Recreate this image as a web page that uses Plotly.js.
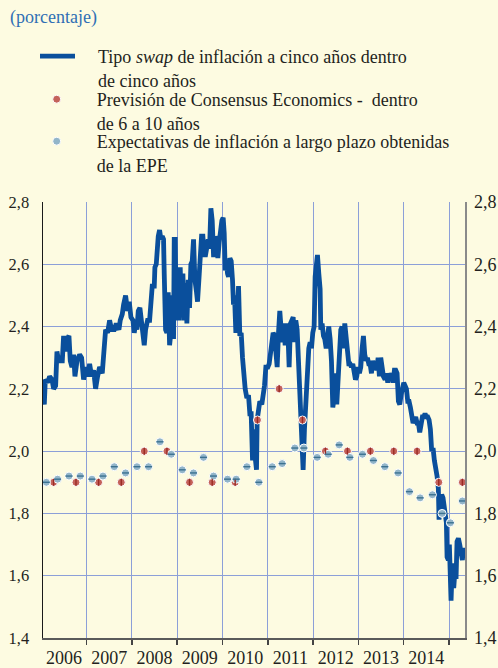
<!DOCTYPE html>
<html>
<head>
<meta charset="utf-8">
<script src="https://cdn.plot.ly/plotly-3.0.1.min.js"></script>
<style>html,body{margin:0;padding:0;background:#fdfbe1;}#chart{width:498px;height:668px;}</style>
</head>
<body>
<div id="chart"></div>
<script>
// Tipo swap de inflación a cinco años dentro de cinco años (fecha en años decimales)
var swapFecha = [
2006.037,2006.067,2006.089,2006.14,2006.184,2006.236,2006.273,2006.317,2006.346,2006.383,2006.42,2006.464,2006.493,2006.53,2006.567,2006.611,2006.64,2006.677,2006.714,2006.743,2006.788,2006.846,2006.89,2006.934,2006.979,
2007.023,2007.067,2007.111,2007.155,2007.199,2007.243,2007.287,2007.346,2007.39,2007.42,2007.464,2007.508,2007.552,2007.611,2007.655,2007.714,2007.743,2007.788,2007.817,2007.861,2007.905,
2007.942,2007.979,2008.023,2008.052,2008.082,2008.111,2008.141,2008.177,2008.214,2008.244,2008.273,2008.302,2008.346,2008.391,2008.42,2008.449,2008.494,2008.508,2008.538,2008.552,2008.582,2008.611,2008.641,2008.67,2008.699,2008.714,2008.744,2008.773,2008.802,2008.832,2008.854,2008.891,2008.92,2008.935,2008.957,2008.979,
2009.001,2009.023,2009.045,2009.067,2009.096,2009.126,2009.155,2009.185,2009.214,2009.244,2009.273,2009.302,2009.332,2009.361,2009.391,2009.427,2009.449,2009.479,2009.508,2009.538,2009.567,2009.596,2009.626,2009.655,2009.685,2009.714,2009.744,2009.773,2009.802,2009.832,
2009.839,2009.868,2009.898,2009.927,2009.957,2009.986,2010.015,2010.038,2010.06,2010.089,2010.111,2010.133,2010.163,2010.192,2010.221,2010.243,2010.265,2010.295,2010.324,2010.354,2010.383,2010.413,2010.442,2010.471,2010.501,2010.538,2010.574,2010.604,2010.633,2010.663,2010.692,2010.721,2010.751,2010.765,2010.795,2010.824,2010.868,2010.898,2010.927,2010.957,
2011.001,2011.03,2011.06,2011.089,2011.118,2011.148,2011.177,2011.207,2011.236,2011.265,2011.295,2011.324,2011.354,2011.383,2011.413,2011.442,2011.471,2011.501,2011.53,2011.56,2011.589,2011.618,2011.648,2011.677,2011.707,2011.736,2011.765,2011.78,2011.809,
2011.846,2011.876,2011.905,2011.935,2011.964,2011.993,2012.023,2012.045,2012.067,2012.096,2012.126,2012.155,2012.17,2012.199,2012.229,2012.258,2012.288,2012.317,2012.346,2012.376,2012.405,2012.435,2012.464,2012.493,2012.523,2012.552,2012.582,2012.611,2012.64,2012.67,2012.699,2012.729,2012.758,2012.788,2012.817,2012.846,2012.876,2012.905,2012.935,2012.964,2012.993,
2013.023,2013.052,2013.082,2013.111,2013.14,2013.17,2013.199,2013.229,2013.258,2013.288,2013.317,2013.346,2013.376,2013.405,2013.435,2013.464,2013.493,2013.523,2013.552,
2013.589,2013.618,2013.648,2013.677,2013.707,2013.736,2013.765,2013.795,2013.824,2013.854,2013.883,2013.913,2013.942,2013.971,2014.001,2014.03,2014.06,2014.089,2014.118,2014.148,2014.177,2014.207,2014.236,2014.265,2014.295,2014.324,2014.354,2014.383,2014.413,2014.442,2014.471,2014.501,2014.53,2014.56,2014.589,2014.618,2014.648,2014.677,2014.707,2014.736,2014.765,2014.78,2014.81,2014.839,2014.868,2014.898,2014.913,2014.942,2014.957,2014.986,
2015.008,2015.03,2015.045,2015.074,2015.104,2015.133,2015.155,2015.177,2015.207,2015.236,2015.265,2015.295,2015.317
];
var swapValor = [
2.18,2.15,2.23,2.22,2.24,2.23,2.20,2.21,2.32,2.29,2.29,2.29,2.37,2.32,2.36,2.37,2.29,2.27,2.31,2.24,2.29,2.31,2.30,2.23,2.27,
2.24,2.28,2.24,2.26,2.20,2.24,2.27,2.25,2.35,2.39,2.38,2.42,2.39,2.39,2.41,2.39,2.42,2.44,2.47,2.50,2.45,
2.48,2.43,2.42,2.38,2.41,2.39,2.45,2.46,2.40,2.35,2.34,2.39,2.42,2.42,2.52,2.53,2.53,2.59,2.60,2.67,2.69,2.71,2.68,2.69,2.68,2.57,2.39,2.38,2.51,2.34,2.37,2.50,2.36,2.68,2.68,2.42,
2.58,2.48,2.42,2.59,2.43,2.57,2.42,2.54,2.41,2.55,2.46,2.60,2.61,2.68,2.55,2.51,2.48,2.55,2.65,2.69,2.69,2.63,2.63,2.65,2.68,2.65,2.78,2.74,2.63,2.63,
2.69,2.67,2.62,2.67,2.72,2.74,2.75,2.70,2.58,2.61,2.57,2.56,2.62,2.61,2.55,2.47,2.50,2.38,2.42,2.53,2.37,2.38,2.30,2.22,2.20,2.17,2.18,2.12,2.12,1.97,2.07,1.98,1.94,2.10,2.14,2.16,2.15,2.18,2.21,2.27,
2.27,2.28,2.31,2.36,2.38,2.37,2.33,2.27,2.38,2.45,2.39,2.35,2.41,2.34,2.41,2.39,2.27,2.41,2.42,2.43,2.35,2.42,2.39,2.29,2.10,2.01,1.96,1.94,2.07,
2.20,2.23,2.33,2.35,2.33,2.38,2.40,2.56,2.59,2.63,2.57,2.52,2.39,2.41,2.37,2.36,2.33,2.37,2.40,2.36,2.29,2.14,2.17,2.25,2.15,2.23,2.32,2.39,2.40,2.33,2.41,2.37,2.32,2.28,2.28,2.27,2.28,2.25,2.23,2.24,2.27,
2.25,2.27,2.33,2.37,2.31,2.29,2.30,2.28,2.28,2.25,2.29,2.27,2.28,2.26,2.30,2.24,2.30,2.25,2.24,
2.23,2.25,2.22,2.25,2.23,2.25,2.22,2.26,2.26,2.25,2.16,2.15,2.18,2.21,2.22,2.21,2.20,2.16,2.16,2.14,2.11,2.09,2.10,2.11,2.09,2.09,2.06,2.08,2.11,2.11,2.12,2.11,2.11,2.10,2.07,2.00,2.01,1.97,1.95,1.92,1.88,1.78,1.84,1.86,1.85,1.81,1.79,1.77,1.66,1.65,
1.70,1.59,1.52,1.64,1.56,1.62,1.59,1.71,1.72,1.70,1.66,1.65,1.69
];

// Previsión de Consensus Economics - dentro de 6 a 10 años
var consensusFecha = [2006.272,2006.766,2007.265,2007.766,2008.273,2008.774,2009.272,2009.773,2010.28,2010.772,2011.251,2011.765,2012.272,2012.758,2013.265,2013.781,2014.295,2014.774,2015.295];
var consensusValor = [1.90,1.90,1.90,1.90,2.00,2.00,1.90,1.90,1.90,2.10,2.20,2.10,2.00,2.00,2.00,2.00,2.00,1.90,1.90];

// Expectativas de inflación a largo plazo obtenidas de la EPE
var epeFecha = [2006.111,2006.36,2006.612,2006.861,2007.119,2007.362,2007.611,2007.86,2008.112,2008.368,2008.619,2008.869,2009.111,2009.36,2009.581,2009.802,2010.111,2010.302,2010.538,2010.803,2011.097,2011.317,2011.597,2011.796,2012.089,2012.332,2012.575,2012.811,2013.089,2013.331,2013.583,2013.876,2014.126,2014.362,2014.633,2014.847,2015.03,2015.295];
var epeValor = [1.90,1.91,1.92,1.92,1.91,1.92,1.95,1.93,1.95,1.95,2.03,1.99,1.94,1.93,1.98,1.92,1.91,1.91,1.95,1.90,1.95,1.96,2.01,2.01,1.98,1.99,2.02,1.98,1.99,1.97,1.95,1.93,1.87,1.85,1.86,1.80,1.77,1.84];

var anios = ['2006','2007','2008','2009','2010','2011','2012','2013','2014'];
var aniosCentro = [2006.5,2007.5,2008.5,2009.5,2010.5,2011.5,2012.5,2013.5,2014.5];
var limitesAnio = [2007,2008,2009,2010,2011,2012,2013,2014,2015];
var yTicks = [1.4,1.6,1.8,2.0,2.2,2.4,2.6,2.8];

var sangria = '&nbsp;&nbsp;&nbsp;&nbsp;';
var nombres = [
  sangria + 'Tipo <i>swap</i> de inflación a cinco años dentro<br>' + sangria + 'de cinco años',
  'Previsión de Consensus Economics -  dentro<br>de 6 a 10 años',
  'Expectativas de inflación a largo plazo obtenidas<br>de la EPE'
];

var xRange = [2006.038, 2015.353];
var yRange = [1.4, 2.8];
var serif = "'Liberation Serif', 'Times New Roman', serif";
var bg = '#fdfbe1';
var grid = '#8c9fd8';
var texto = '#231f20';

var traces = [
  {x: swapFecha, y: swapValor, type: 'scatter', mode: 'lines', name: nombres[0], legend: 'legend',
   line: {color: '#0a4f9c', width: 4.8}},
  {x: consensusFecha, y: consensusValor, type: 'scatter', mode: 'markers', name: nombres[1], legend: 'legend2',
   marker: {symbol: 'circle', size: 8, color: '#c4625a', line: {color: '#ffffff', width: 1}}},
  {x: epeFecha, y: epeValor, type: 'scatter', mode: 'markers', name: nombres[2], legend: 'legend3',
   marker: {symbol: 'circle', size: 8, color: '#92b5c9', line: {color: '#ffffff', width: 1}}},
  {x: consensusFecha, y: consensusValor, type: 'scatter', mode: 'markers', showlegend: false, hoverinfo: 'skip',
   xaxis: 'x2', yaxis: 'y2',
   marker: {symbol: 'line-ns', size: 5, line: {color: '#9a2a24', width: 1.4}}},
  {x: epeFecha, y: epeValor, type: 'scatter', mode: 'markers', showlegend: false, hoverinfo: 'skip',
   xaxis: 'x2', yaxis: 'y2',
   marker: {symbol: 'line-ew', size: 5, line: {color: '#3b7190', width: 1.4}}}
];

function leyenda(x, yTop, ancho) {
  return {xref: 'container', yref: 'container', x: x / 498, y: 1 - yTop / 668,
          xanchor: 'left', yanchor: 'top', bgcolor: 'rgba(0,0,0,0)', borderwidth: 0,
          font: {family: serif, size: 18, color: texto}, valign: 'top', itemwidth: ancho};
}

var layout = {
  width: 498, height: 668,
  margin: {l: 43, r: 33, t: 202, b: 30, pad: 0, autoexpand: false},
  paper_bgcolor: bg, plot_bgcolor: bg,
  separators: ',.',
  font: {family: serif, size: 16, color: texto},
  title: {text: '(porcentaje)', x: 10/498, xref: 'container', xanchor: 'left',
          y: 1 - 17/668, yref: 'container', yanchor: 'middle',
          font: {family: serif, size: 18, color: '#2f6fb4'}},
  showlegend: true,
  legend: leyenda(35, 38, 35),
  legend2: leyenda(16.7, 81, 70),
  legend3: leyenda(16.7, 123, 70),
  xaxis: {range: xRange, type: 'linear', tickmode: 'array', tickvals: limitesAnio,
          showticklabels: false, ticks: 'outside', ticklen: 5, tickwidth: 1.5, tickcolor: '#444',
          showgrid: true, gridcolor: grid, gridwidth: 1, zeroline: false,
          showline: true, linecolor: '#5a5a5a', linewidth: 2, fixedrange: true},
  xaxis2: {range: xRange, overlaying: 'x', anchor: 'y', side: 'bottom', tickmode: 'array',
           tickvals: aniosCentro, ticktext: anios, ticks: '', showgrid: false, zeroline: false,
           showline: false, ticklabelstandoff: 7, tickfont: {family: serif, size: 18, color: texto}},
  yaxis: {range: yRange, tickmode: 'array', tickvals: yTicks, tickformat: '.1f',
          ticks: '', showgrid: true, gridcolor: grid, gridwidth: 1, zeroline: false,
          showline: true, linecolor: '#1a1a1a', linewidth: 1.5, ticklabelstandoff: 9,
          tickfont: {family: serif, size: 16.5, color: texto}},
  yaxis2: {range: yRange, overlaying: 'y', anchor: 'x', side: 'right', tickmode: 'array',
           tickvals: yTicks, tickformat: '.1f', ticks: '', showgrid: false, zeroline: false,
           showline: true, linecolor: '#8a8a8a', linewidth: 1.5, ticklabelstandoff: 4,
           tickfont: {family: serif, size: 18, color: texto}}
};

Plotly.newPlot('chart', traces, layout, {staticPlot: true, displayModeBar: false});
</script>
</body>
</html>
